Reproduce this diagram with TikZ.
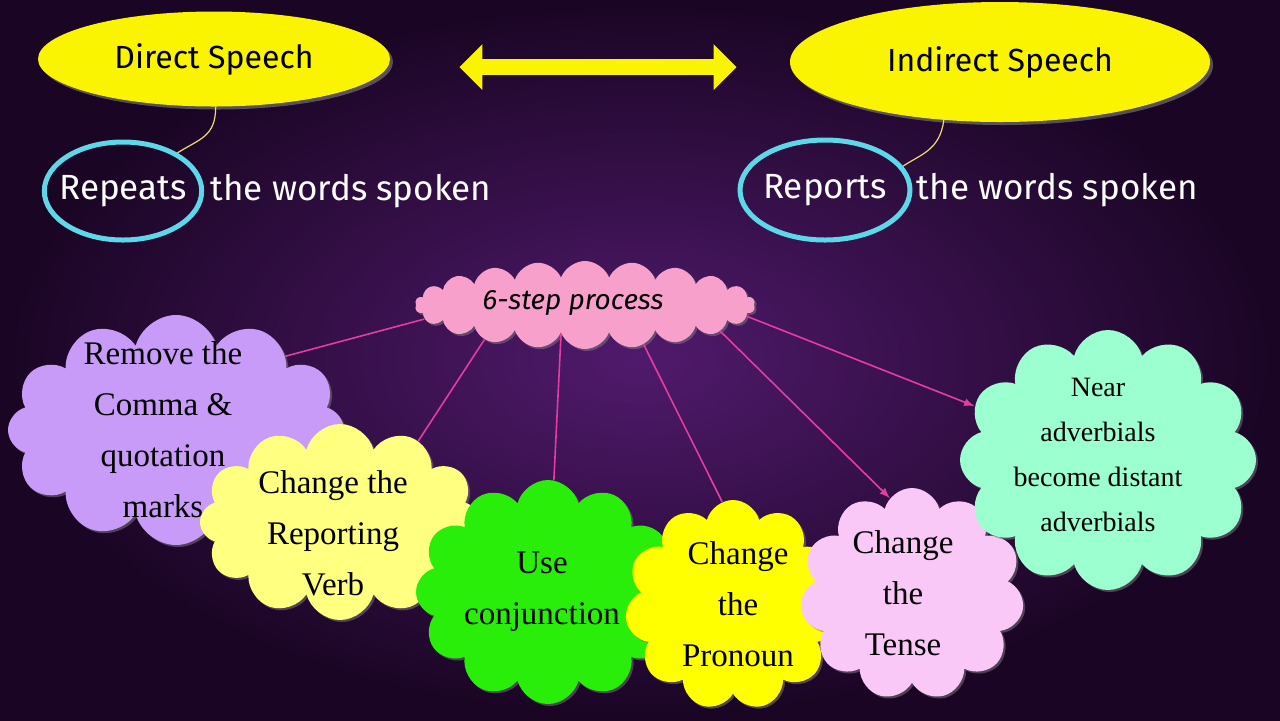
\documentclass[tikz,border=0pt]{standalone}
\usepackage{fontspec}
\setmainfont{Liberation Serif}
\setsansfont{Fira Sans}
\usepackage{xcolor}
\usepackage{tikz}
\usetikzlibrary{shapes.geometric, shapes.symbols, shapes.arrows, arrows, positioning, calc, shadows}
\definecolor{bgdark}{RGB}{26, 5, 36}
\definecolor{bgglow}{RGB}{80, 26, 108}
\definecolor{speechyellow}{RGB}{250, 244, 0}
\definecolor{ringcyan}{RGB}{92, 216, 232}
\definecolor{tiegold}{RGB}{240, 220, 110}
\definecolor{linkpink}{RGB}{228, 60, 160}
\definecolor{procpink}{RGB}{248, 160, 204}
\definecolor{lavender}{RGB}{200, 155, 248}
\definecolor{paleyellow}{RGB}{255, 255, 128}
\definecolor{brightgreen}{RGB}{40, 238, 10}
\definecolor{pureyellow}{RGB}{255, 255, 0}
\definecolor{lightpink}{RGB}{250, 200, 246}
\definecolor{mintgreen}{RGB}{155, 255, 208}

\begin{document}
\begin{tikzpicture}[x=0.5pt, y=-0.5pt,
    speech/.style={ellipse, fill=speechyellow, inner sep=0pt,
        drop shadow={opacity=.6, shadow xshift=1.5pt, shadow yshift=-1.5pt},
        font=\fontsize{16}{19}\sffamily\selectfont},
    ring/.style={ellipse, draw=ringcyan, line width=2.5pt, inner ysep=0pt, inner xsep=-4pt,
        text=white, font=\fontsize{17.5}{20}\sffamily\selectfont},
    spoken/.style={inner sep=1pt, text=white, font=\fontsize{17.5}{20}\sffamily\selectfont},
    cloudbox/.style={cloud, cloud puffs=12, cloud ignores aspect, inner sep=0pt,
        drop shadow={opacity=.5, shadow xshift=1pt, shadow yshift=-1pt}},
    steptext/.style={align=center, inner sep=0pt, font=\fontsize{16.5}{25.5}\selectfont},
    link/.style={draw=linkpink, line width=0.8pt},
    tie/.style={draw=tiegold, line width=0.6pt}]

    % background
    \useasboundingbox (0,0) rectangle (1280,720);
    \shade[inner color=bgglow, outer color=bgdark] (0,0) rectangle (1280,720);

    % top row
    \node[speech, minimum width=176pt, minimum height=47.5pt] (direct) at (214,59) {Direct Speech};
    \node[speech, minimum width=210pt, minimum height=60pt] (indirect) at (1000,62) {Indirect Speech};
    \node[double arrow, fill=speechyellow, inner sep=3.75pt, double arrow head extend=7.5pt,
          minimum height=138.5pt] (swap) at (598,67) {};

    \node[ring, minimum width=78pt, minimum height=49pt] (repring) at (123,191) {Repeats};
    \node[spoken, right=2pt of repring] (repwords) {the words spoken};
    \node[ring, minimum width=85pt, minimum height=50pt] (reporting) at (825,190) {Reports};
    \node[spoken, right=1pt of reporting] (repowords) {the words spoken};

    \draw[tie] (direct.-88) .. controls +(0,30) and +(22,-14) .. (repring.35);
    \draw[tie] (indirect.226) .. controls +(-4,30) and +(18,-12) .. (reporting.17);

    % 6-step clouds
    \node[cloudbox, fill=procpink, cloud puffs=22, cloud puff arc=140, minimum width=170pt, minimum height=44pt] (proc) at (585,305) {};
    \node[font=\fontsize{14}{17}\sffamily\itshape\selectfont] (proctext) at (573,303) {6-step process};

    \node[cloudbox, fill=lavender, minimum width=168pt, minimum height=115pt] (remove) at (176,430) {};
    \node[steptext] (removetext) at (163,430) {Remove the\\Comma \&\\quotation\\marks};

    \node[cloudbox, fill=paleyellow, minimum width=140pt, minimum height=98pt] (verb) at (340,522) {};
    \node[steptext] (verbtext) at (333,533) {Change the\\Reporting\\Verb};

    \node[cloudbox, fill=brightgreen, minimum width=132pt, minimum height=112pt] (conj) at (548,592) {};
    \node[steptext] (conjtext) at (542,592) {Use\\conjunction};

    \node[cloudbox, fill=pureyellow, cloud puffs=11, minimum width=108pt, minimum height=105pt] (pron) at (733,605) {};
    \node[steptext] (prontext) at (738,604) {Change\\the\\Pronoun};

    \node[cloudbox, fill=lightpink, cloud puffs=11, minimum width=112pt, minimum height=106pt] (tense) at (912,594) {};
    \node[steptext] (tensetext) at (903,593) {Change\\the\\Tense};

    \node[cloudbox, fill=mintgreen, minimum width=148pt, minimum height=130pt] (near) at (1108,460) {};
    \node[steptext, font=\fontsize{14}{22.5}\selectfont] (neartext) at (1098,455) {Near\\adverbials\\become distant\\adverbials};

    % links
    \draw[link] (proc.185) -- (remove.34);
    \draw[link] (proc.199) -- (verb.46);
    \draw[link] (proc.230) -- (conj.87);
    \draw[link] (proc.-34) -- (pron.96);
    \draw[link, -latex] (proc.-11) -- (tense.103);
    \draw[link, -latex] (proc.-4) -- (near.158);
\end{tikzpicture}
\end{document}
